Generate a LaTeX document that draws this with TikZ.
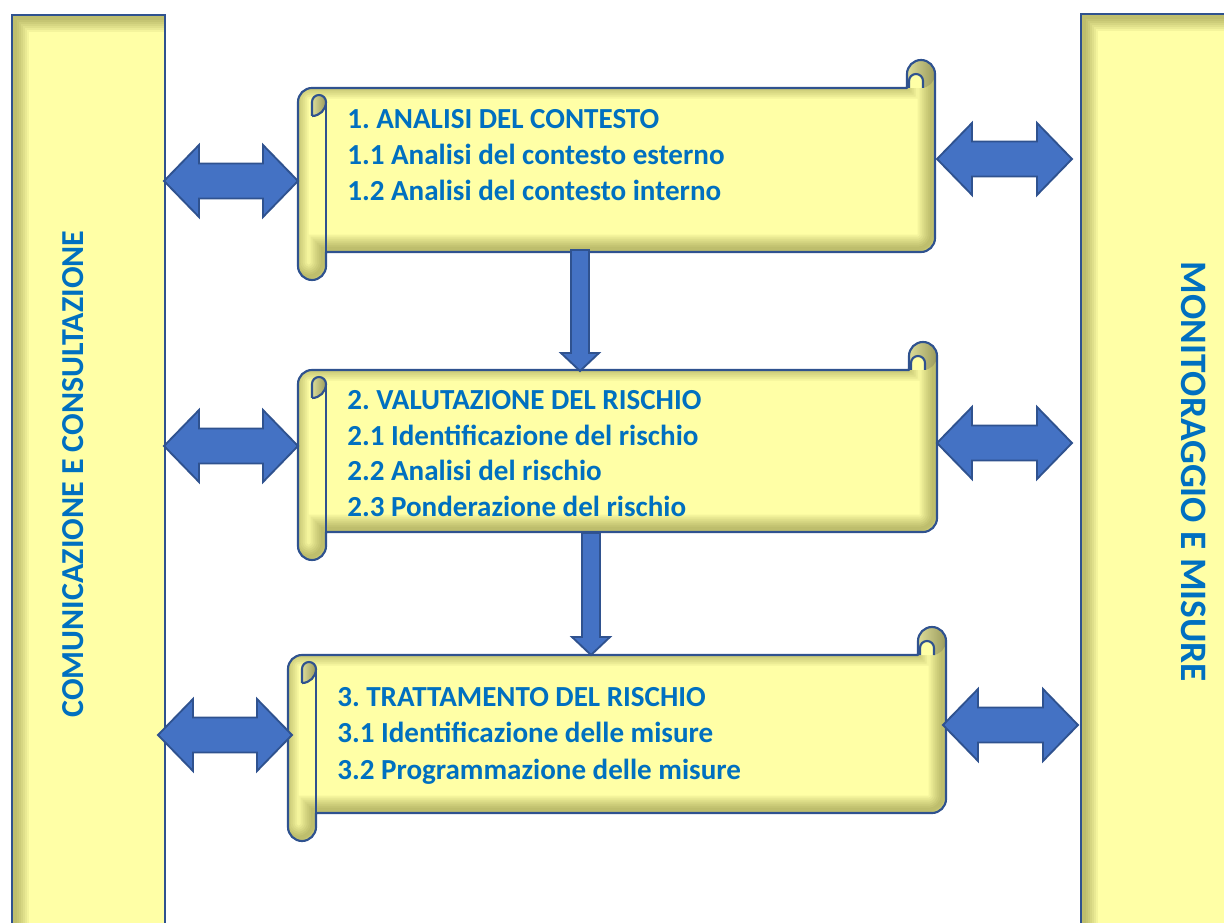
\documentclass[tikz,border=0pt]{standalone}
\usepackage{fontspec}
\setmainfont{Carlito}
\usetikzlibrary{calc}
\frenchspacing
\definecolor{yel}{HTML}{FFFFA6}
\definecolor{bord}{HTML}{2F528F}
\definecolor{arrfill}{HTML}{4472C4}
\definecolor{txt}{HTML}{0070C0}
\definecolor{shad}{RGB}{100,100,30}
\definecolor{curlA}{HTML}{DCDC98}
\definecolor{curlB}{HTML}{9A9A5C}

\tikzset{
  scrollline/.style={draw=bord, line width=1.6pt, line join=round},
  bandline/.style={draw=bord, line width=2.2pt},
  fatarrow/.style={fill=arrfill, draw=bord, line width=1.4pt, line join=miter},
  lbl/.style={text=txt, font=\bfseries\fontsize{21.8}{26}\selectfont, anchor=base west, inner sep=0pt},
  vlbl/.style={text=txt, inner sep=0pt, anchor=base},
}

\newcommand\scrollset[4]{%
 \pgfmathsetmacro\scL{#1}\pgfmathsetmacro\scT{-(#2)}\pgfmathsetmacro\scR{#3}\pgfmathsetmacro\scB{-(#4)}%
 \pgfmathsetmacro\scXc{\scR-28}\pgfmathsetmacro\scXd{\scR-14}%
 \pgfmathsetmacro\scLa{\scL+14}\pgfmathsetmacro\scLb{\scL+28}%
 \pgfmathsetmacro\scYch{\scT-28}\pgfmathsetmacro\scYh{\scT-14}\pgfmathsetmacro\scYc{\scT-42}\pgfmathsetmacro\scYd{\scT-56}%
 \pgfmathsetmacro\scYf{\scB+28}\pgfmathsetmacro\scYg{\scB+14}\pgfmathsetmacro\scYe{\scB+42}%
 \pgfmathsetmacro\scYk{\scT-21}\pgfmathsetmacro\scXk{\scXc+2}\pgfmathsetmacro\scXm{\scXd+2}%
}
\newcommand\scrollpath{(\scL,\scYc) arc[start angle=180,end angle=90,radius=14] -- (\scXc,\scYch) -- (\scXc,\scYh) arc[start angle=180,end angle=0,radius=14] -- (\scR,\scYe) arc[start angle=0,end angle=-90,radius=14] -- (\scLb,\scYf) -- (\scLb,\scYg) arc[start angle=0,end angle=-180,radius=14] -- cycle}

\newcommand\drawscroll[4]{%
 \scrollset{#1}{#2}{#3}{#4}%
 \fill[yel] \scrollpath;
 \begin{scope}
  \clip \scrollpath;
  \foreach \w in {3,6,...,21} {\draw[shad, opacity=0.07, line width=\w pt, xshift=-2.5pt, yshift=2.5pt] \scrollpath;}
 \end{scope}
 \shade[left color=curlA, right color=curlB] (\scXd,\scYh) circle[radius=14];
 \fill[yel] (\scXk,\scYch) -- (\scXk,\scYk) arc[start angle=180,end angle=0,radius=7] -- (\scXm,\scYch) -- cycle;
 \shade[left color=curlA, right color=curlB] (\scLa,\scYd) -- (\scLa,\scYc) arc[start angle=180,end angle=0,radius=7] arc[start angle=0,end angle=-90,radius=14] -- cycle;
 \draw[scrollline] \scrollpath;
 \draw[scrollline] (\scLb,\scYc) -- (\scLb,\scYf);
 \draw[scrollline] (\scXk,\scYch) -- (\scXk,\scYk) arc[start angle=180,end angle=0,radius=7] -- (\scXm,\scYch);
 \draw[scrollline] (\scLa,\scYd) -- (\scLa,\scYc) arc[start angle=180,end angle=0,radius=7] arc[start angle=0,end angle=-90,radius=14];
}

\newcommand\hdarrow[2]{\draw[fatarrow] (#1) -- ++(35,36) -- ++(0,-18.5) -- ($(#2)+(-35,17.5)$) -- ++(0,18.5) -- (#2) -- ++(-35,-36) -- ++(0,18.5) -- ($(#1)+(35,-17.5)$) -- ++(0,-18.5) -- cycle;}
\newcommand\vdarrow[2]{\draw[fatarrow] ($(#1)+(-9,0)$) -- ($(#2)+(-9,18)$) -- ++(-10,0) -- (#2) -- ($(#2)+(19,18)$) -- ++(-10,0) -- ($(#1)+(9,0)$) -- cycle;}

\newcommand\drawband[4]{%
 \fill[yel] (#1,#2) rectangle (#3,#4);
 \begin{scope}
  \clip (#1,#2) rectangle (#3,#4);
  \foreach \w in {3,6,...,21} {\draw[shad, opacity=0.07, line width=\w pt, xshift=2.5pt, yshift=-2.5pt] (#1,#4) -- (#1,#2) -- (#3,#2);}
 \end{scope}
 \draw[bandline] (#1,#4) -- (#1,#2) -- (#3,#2) -- (#3,#4);
}

\begin{document}
\begin{tikzpicture}[x=0.75pt,y=0.75pt]
\useasboundingbox (0,0) rectangle (1224,-923);
\clip (0,0) rectangle (1224,-923);

% side bands
\drawband{12}{-15}{165}{-940}
\drawband{1081}{-14}{1240}{-940}
\node[vlbl, rotate=90, font=\bfseries\fontsize{24}{29}\selectfont] (cc) at (83,-474) {COMUNICAZIONE E CONSULTAZIONE};
\node[vlbl, rotate=-90, font=\bfseries\fontsize{28}{33}\selectfont] (mm) at (1181,-472) {MONITORAGGIO E MISURE};

% scrolls
\drawscroll{298}{60}{935}{280}
\drawscroll{298}{342}{937}{560}
\drawscroll{288}{627}{946}{841}

% texts
\node[lbl] (t10) at (347,-129) {1. ANALISI DEL CONTESTO};
\node[lbl] (t11) at (347,-165) {1.1 Analisi del contesto esterno};
\node[lbl] (t12) at (347,-201) {1.2 Analisi del contesto interno};
\node[lbl] (t20) at (347,-409) {2. VALUTAZIONE DEL RISCHIO};
\node[lbl] (t21) at (347,-445) {2.1 Identificazione del rischio};
\node[lbl] (t22) at (347,-480) {2.2 Analisi del rischio};
\node[lbl] (t23) at (347,-516) {2.3 Ponderazione del rischio};
\node[lbl] (t30) at (337,-706) {3. TRATTAMENTO DEL RISCHIO};
\node[lbl] (t31) at (337,-742) {3.1 Identificazione delle misure};
\node[lbl] (t32) at (337,-779) {3.2 Programmazione delle misure};

% connector end points
\coordinate (a1l) at (164,-181); \coordinate (a1r) at (298,-181);
\coordinate (a2l) at (164,-446); \coordinate (a2r) at (298,-446);
\coordinate (a3l) at (158,-735); \coordinate (a3r) at (292,-735);
\coordinate (b1l) at (937,-159); \coordinate (b1r) at (1072,-159);
\coordinate (b2l) at (937,-443); \coordinate (b2r) at (1072,-443);
\coordinate (b3l) at (943,-725); \coordinate (b3r) at (1078,-725);
\coordinate (d1t) at (580,-250); \coordinate (d1b) at (580,-371);
\coordinate (d2t) at (591,-533); \coordinate (d2b) at (591,-655);

\hdarrow{a1l}{a1r}
\hdarrow{a2l}{a2r}
\hdarrow{a3l}{a3r}
\hdarrow{b1l}{b1r}
\hdarrow{b2l}{b2r}
\hdarrow{b3l}{b3r}
\vdarrow{d1t}{d1b}
\vdarrow{d2t}{d2b}
\end{tikzpicture}
\end{document}
